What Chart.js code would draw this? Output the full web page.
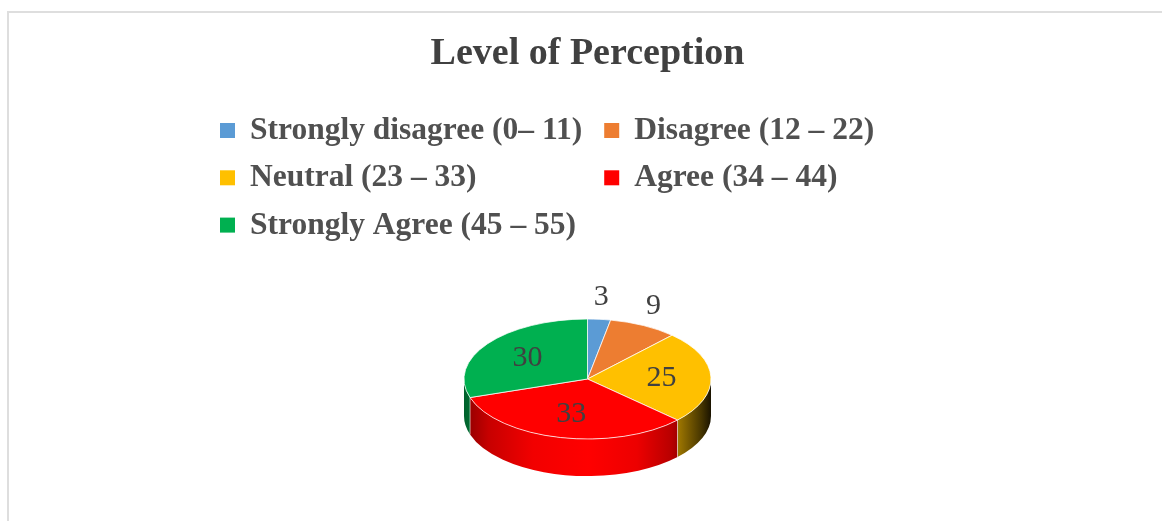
<!DOCTYPE html>
<html><head><meta charset="utf-8">
<script src="https://cdn.jsdelivr.net/npm/chart.js@4.4.1/dist/chart.umd.min.js"></script>
<style>
html,body{margin:0;padding:0;background:#fff;overflow:hidden;}
#wrap{position:relative;width:1162px;height:521px;overflow:hidden;}
#frame{position:absolute;left:7px;top:11px;width:1300px;height:700px;border-left:2px solid #dedede;border-top:2px solid #dedede;}
canvas{position:absolute;left:0;top:0;}
</style></head><body>
<div id="wrap"><div id="frame"></div><canvas id="c" width="1162" height="521"></canvas></div>
<script>
const chartTitle = 'Level of Perception';
const categories = ['Strongly disagree (0– 11)', 'Disagree (12 – 22)', 'Neutral (23 – 33)', 'Agree (34 – 44)', 'Strongly Agree (45 – 55)'];
const values = [3, 9, 25, 33, 30];
const colors = ['#5B9BD5', '#ED7D31', '#FFC000', '#FF0000', '#00B050'];

const SERIF = "'Liberation Serif', 'Times New Roman', serif";

function shade(hex, f) {
  const n = parseInt(hex.slice(1), 16);
  const r = Math.round(((n >> 16) & 255) * f), g = Math.round(((n >> 8) & 255) * f), b = Math.round((n & 255) * f);
  return 'rgb(' + r + ',' + g + ',' + b + ')';
}
const sideStops = [[0,0.55],[0.1,0.78],[0.28,0.95],[0.5,1],[0.7,0.93],[0.84,0.72],[0.9,0.5],[0.96,0.28],[1,0.1]];

const pie3d = {
  id: 'pie3d',
  beforeDatasetsDraw(chart, args, o) {
    const meta = chart.getDatasetMeta(0);
    const first = meta.data[0];
    const cx = first.x, cy = first.y, R = first.outerRadius;
    const ctx = chart.ctx;
    const bg = chart.data.datasets[0].backgroundColor;
    ctx.save();
    ctx.translate(cx, cy); ctx.scale(1, o.tilt); ctx.translate(-cx, -cy);
    const d = o.depth / o.tilt;
    meta.data.forEach((arc, i) => {
      const lo = Math.max(arc.startAngle, 0), hi = Math.min(arc.endAngle, Math.PI);
      if (hi <= lo) return;
      const g = ctx.createLinearGradient(cx - R, 0, cx + R, 0);
      sideStops.forEach(([p, f]) => g.addColorStop(p, shade(bg[i], f)));
      ctx.beginPath();
      ctx.arc(cx, cy + d, R, lo, hi);
      ctx.arc(cx, cy, R, hi, lo, true);
      ctx.closePath();
      ctx.fillStyle = g;
      ctx.fill();
    });
    ctx.strokeStyle = 'rgba(255,255,255,0.75)';
    ctx.lineWidth = 1;
    meta.data.forEach(arc => {
      const a = arc.startAngle;
      if (a > 0 && a < Math.PI) {
        const x = cx + R * Math.cos(a), y = cy + R * Math.sin(a);
        ctx.beginPath(); ctx.moveTo(x, y); ctx.lineTo(x, y + d); ctx.stroke();
      }
    });
  },
  afterDatasetsDraw(chart, args, o) {
    const ctx = chart.ctx;
    ctx.restore();
    const meta = chart.getDatasetMeta(0);
    const data = chart.data.datasets[0].data;
    const total = data.reduce((s, v) => s + v, 0);
    ctx.save();
    ctx.font = o.labelSize + 'px ' + SERIF;
    ctx.fillStyle = o.labelColor;
    ctx.textAlign = 'center';
    ctx.textBaseline = 'middle';
    meta.data.forEach((arc, i) => {
      const cx = arc.x, cy = arc.y, R = arc.outerRadius;
      const a = (arc.startAngle + arc.endAngle) / 2;
      const v = data[i];
      let x, y;
      if (v / total < o.outsideBelow) {
        x = cx + Math.cos(a) * (R + o.outsideGap);
        y = cy + Math.sin(a) * (R * o.tilt + o.outsideGap);
      } else {
        x = cx + Math.cos(a) * R * o.inside;
        y = cy + Math.sin(a) * R * o.tilt * o.inside;
      }
      ctx.fillText(String(v), x, y);
    });
    ctx.restore();
  }
};

const gridLegend = {
  id: 'gridLegend',
  afterDraw(chart, args, o) {
    const ctx = chart.ctx;
    const ds = chart.data.datasets[0];
    const labels = chart.data.labels;
    ctx.save();
    ctx.font = 'bold ' + o.size + 'px ' + SERIF;
    const col1 = labels.filter((_, i) => i % 2 === 0);
    const w1 = Math.max(...col1.map(t => ctx.measureText(t).width));
    const xs = [o.left, o.left + o.boxToText + w1 + o.colGap];
    ctx.textBaseline = 'alphabetic';
    ctx.textAlign = 'left';
    labels.forEach((t, i) => {
      const c = i % 2, r = Math.floor(i / 2);
      const bx = xs[c], by = o.firstBaseline + r * o.rowGap;
      ctx.fillStyle = ds.backgroundColor[i];
      ctx.fillRect(bx, by - o.box - 1, o.box, o.box);
      ctx.fillStyle = o.color;
      ctx.fillText(t, bx + o.boxToText, by);
    });
    ctx.restore();
  }
};

new Chart(document.getElementById('c'), {
  type: 'pie',
  data: {
    labels: categories,
    datasets: [{
      data: values,
      backgroundColor: colors,
      borderColor: '#ffffff',
      borderWidth: 1,
      hoverOffset: 0,
      radius: 123.5
    }]
  },
  options: {
    responsive: false,
    animation: false,
    events: [],
    layout: { padding: { left: 13, right: 0, top: 0, bottom: 10 } },
    plugins: {
      legend: { display: false },
      tooltip: { enabled: false },
      title: {
        display: true,
        text: chartTitle,
        color: '#404040',
        font: { family: SERIF, size: 38, weight: 'bold', lineHeight: 1.2 },
        padding: { top: 31.7, bottom: 169.7 }
      },
      pie3d: { tilt: 60 / 123.5, depth: 37, labelSize: 30, labelColor: '#404040', inside: 0.6, outsideBelow: 0.1, outsideGap: 22 },
      gridLegend: { left: 220, box: 15, boxToText: 30, colGap: 22, firstBaseline: 139, rowGap: 47.3, size: 31.5, color: '#505050' }
    }
  },
  plugins: [pie3d, gridLegend]
});
</script>
</body></html>
